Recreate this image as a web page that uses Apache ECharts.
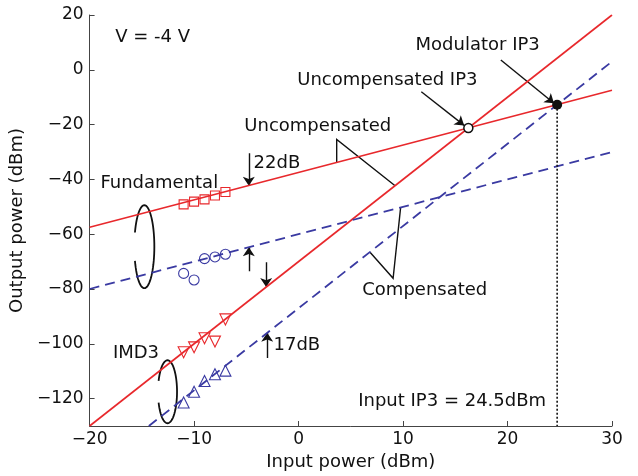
<!DOCTYPE html>
<html>
<head>
<meta charset="utf-8">
<script src="https://cdn.jsdelivr.net/npm/echarts@6/dist/echarts.min.js"></script>
<style>
  html, body { margin: 0; padding: 0; background: #fff; }
  #chart { width: 638px; height: 476px; }
</style>
</head>
<body>
<div id="chart"></div>
<script>
// measured points (input power in dBm)
const inputPower = [-11, -10, -9, -8, -7];
const fundUncomp = [-49.1, -48.1, -47.3, -45.9, -44.6];
const fundComp = [-74.3, -76.7, -68.9, -68.3, -67.3];
const imd3Uncomp = [-103.1, -101.3, -98.0, -99.2, -91.1];
const imd3Comp = [-121.4, -117.5, -113.6, -111.1, -109.8];

// fitted lines, [x, y] end points
const fundUncompFit = [[-20, -57.5], [30, -7.5]];
const imd3UncompFit = [[-20, -130], [30, 20]];
const fundCompFit = [[-20, -80], [30, -30]];
const imd3CompFit = [[-14.33, -130], [30, 3]];

// intercept points
const uncompIP3 = [16.25, -21.25];
const modIP3 = [24.75, -12.75];

const yTicks = [-120, -100, -80, -60, -40, -20, 0, 20];

// annotations (data coords)
const labels = [
  { name: 'V = -4 V', value: [-13.97, 12.0] },
  { name: 'Modulator IP3', value: [17.14, 9.05] },
  { name: 'Uncompensated IP3', value: [8.5, -4.0] },
  { name: 'Uncompensated', value: [1.84, -20.8] },
  { name: '22dB', value: [-2.07, -34.1] },
  { name: 'Fundamental', value: [-13.33, -41.4] },
  { name: 'IMD3', value: [-15.56, -103.5] },
  { name: '17dB', value: [-0.16, -100.4] },
  { name: 'Compensated', value: [12.08, -80.4] },
  { name: 'Input IP3 = 24.5dBm', value: [14.7, -121.1] }
];
const arrows = [
  [[-4.76, -30.5], [-4.76, -42.3]],
  [[-4.76, -73.5], [-4.76, -64.8]],
  [[-3.1, -70.2], [-3.1, -79.3]],
  [[-3.0, -105.2], [-3.0, -96.0]],
  [[11.75, -8.0], [15.85, -20.3]],
  [[19.36, 3.6], [24.45, -12.2]]
];
const brackets = [
  [[3.65, -33.85], [3.65, -25.4], [9.24, -42.3]],
  [[9.77, -50.23], [9.05, -76.1], [6.82, -66.5]]
];
// ellipse centres, radii in px
const ellipses = [
  [-14.76, -64.56, 10, 41.5],
  [-12.54, -117.5, 9.5, 31.5]
];

const RED = '#e8282c';
const BLUE = '#3a3aa2';
const FONT = 'DejaVu Sans';
const INK = '#111';

const pts = (ys) => inputPower.map((x, i) => [x, ys[i]]);
const minus = (v) => String(v).replace('-', '\u2212');
const hollow = (c) => ({ color: 'transparent', borderColor: c, borderWidth: 1.1, opacity: 1 });

const chart = echarts.init(document.getElementById('chart'));

const option = {
  animation: false,
  grid: { left: 87, right: 26, top: 15, bottom: 50 },
  xAxis: {
    type: 'value', min: -20, max: 30, interval: 10,
    name: 'Input power (dBm)', nameLocation: 'middle', nameGap: 27,
    nameTextStyle: { fontFamily: FONT, fontSize: 18, color: INK },
    axisLine: { onZero: false, lineStyle: { color: '#444', width: 1 } },
    axisTick: { inside: true, length: 5, lineStyle: { color: '#444' } },
    axisLabel: { fontFamily: FONT, fontSize: 17, color: INK, margin: 5, formatter: minus },
    splitLine: { show: false }
  },
  yAxis: {
    type: 'value', min: -130, max: 20,
    name: 'Output power (dBm)', nameLocation: 'middle', nameGap: 56,
    nameTextStyle: { fontFamily: FONT, fontSize: 18, color: INK },
    axisLine: { show: true, onZero: false, lineStyle: { color: '#444', width: 1 } },
    axisTick: { show: true, inside: true, length: 5, customValues: yTicks, lineStyle: { color: '#444' } },
    axisLabel: { fontFamily: FONT, fontSize: 17, color: INK, margin: 6, customValues: yTicks, formatter: minus },
    splitLine: { show: false }
  },
  series: [
    { type: 'line', data: fundUncompFit, showSymbol: false, lineStyle: { color: RED, width: 1.6 } },
    { type: 'line', data: imd3UncompFit, showSymbol: false, lineStyle: { color: RED, width: 1.6 } },
    { type: 'line', data: fundCompFit, showSymbol: false, lineStyle: { color: BLUE, width: 1.8, type: [10, 6] } },
    { type: 'line', data: imd3CompFit, showSymbol: false, lineStyle: { color: BLUE, width: 1.8, type: [10, 6] } },
    { type: 'line', data: [modIP3, [modIP3[0], -130]], showSymbol: false,
      lineStyle: { color: INK, width: 1.6, type: [2, 2] } },
    { type: 'scatter', data: pts(fundUncomp), symbol: 'rect', symbolSize: 9, itemStyle: hollow(RED) },
    { type: 'scatter', data: pts(fundComp), symbol: 'circle', symbolSize: 10, itemStyle: hollow(BLUE) },
    { type: 'scatter', data: pts(imd3Uncomp), symbol: 'triangle', symbolSize: 11, symbolRotate: 180,
      itemStyle: hollow(RED) },
    { type: 'scatter', data: pts(imd3Comp), symbol: 'triangle', symbolSize: 11, itemStyle: hollow(BLUE) },
    { type: 'scatter', data: [uncompIP3], symbol: 'circle', symbolSize: 9, z: 5,
      itemStyle: { color: '#fff', borderColor: INK, borderWidth: 1.5, opacity: 1 } },
    { type: 'scatter', data: [modIP3], symbol: 'circle', symbolSize: 10, z: 5,
      itemStyle: { color: INK, opacity: 1 } },
    { type: 'lines', coordinateSystem: 'cartesian2d', symbol: ['none', 'arrow'], symbolSize: 9,
      lineStyle: { color: INK, width: 1.4, opacity: 1 },
      data: arrows.map((c) => ({ coords: c })) },
    { type: 'lines', coordinateSystem: 'cartesian2d', polyline: true,
      lineStyle: { color: INK, width: 1.4, opacity: 1 },
      data: brackets.map((c) => ({ coords: c })) },
    {
      type: 'custom', data: ellipses,
      renderItem: (params, api) => {
        const c = api.coord([api.value(0), api.value(1)]);
        const rx = api.value(2), ry = api.value(3);
        const points = [];
        // open on the left side
        for (let a = 200; a <= 520; a += 5) {
          const t = a * Math.PI / 180;
          points.push([c[0] + rx * Math.cos(t), c[1] - ry * Math.sin(t)]);
        }
        return { type: 'polyline', shape: { points }, style: { stroke: INK, lineWidth: 1.8, fill: null } };
      }
    },
    { type: 'scatter', data: labels, symbolSize: 1, z: 6,
      itemStyle: { color: 'transparent', opacity: 1 },
      label: { show: true, position: 'inside', formatter: (p) => p.name,
        fontFamily: FONT, fontSize: 18, color: INK, textBorderWidth: 0 } }
  ]
};

chart.setOption(option);
</script>
</body>
</html>
